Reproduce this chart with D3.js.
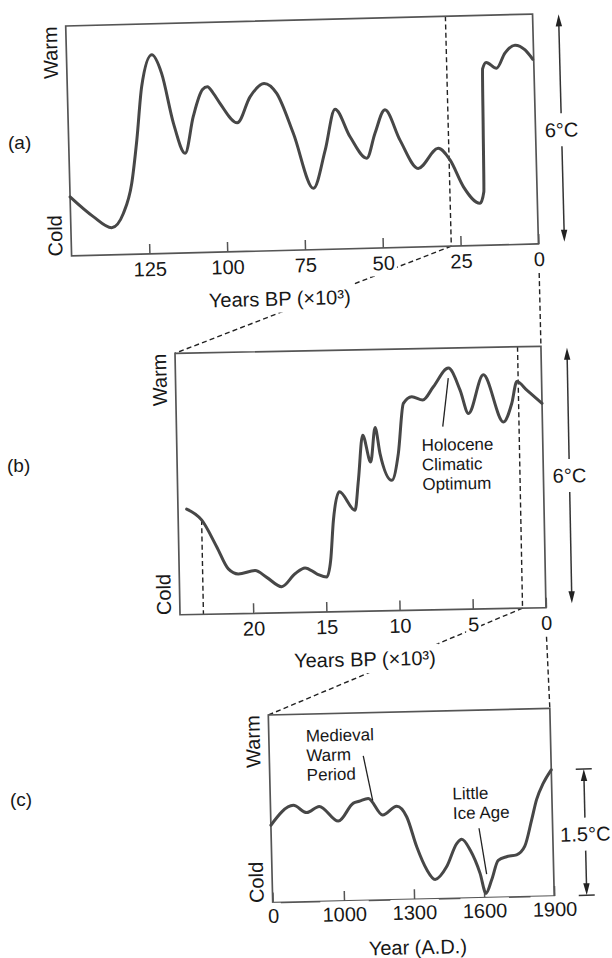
<!DOCTYPE html>
<html>
<head>
<meta charset="utf-8">
<script src="https://cdn.jsdelivr.net/npm/d3@7"></script>
<style>
  body { margin: 0; background: #fff; }
  svg { display: block; }
</style>
</head>
<body>
<svg id="fig" width="612" height="958"></svg>
<script>
// (a) Last glacial cycle: thousands of years BP vs. relative temperature (°C)
const glacialYears = [150, 142.7, 136.9, 133.0, 130.1, 128.1, 126.1, 122.6, 119.6, 116.2, 112.7, 109.8, 106.6, 105.0, 103.2, 101.1, 95.7, 91.4, 86.8, 82.8, 77.8, 71.8, 67.7, 64.2, 59.6, 54.4, 51.6, 48.2, 43.6, 38.0, 31.4, 27.7, 23.6, 18.4, 17.1, 16.8, 16.5, 15.3, 12.0, 9.2, 5.9, 2.7, 0.3];
const glacialTemp  = [1.54, 1.01, 0.71, 1.08, 1.85, 2.98, 4.37, 5.19, 4.70, 3.39, 2.60, 3.55, 4.25, 4.32, 4.15, 3.88, 3.36, 4.03, 4.37, 4.10, 3.05, 1.60, 2.59, 3.65, 2.92, 2.35, 2.99, 3.60, 2.80, 2.05, 2.56, 2.25, 1.54, 1.10, 1.40, 3.00, 4.60, 4.77, 4.61, 5.00, 5.20, 5.07, 4.82];
const glacialTicks = [125, 100, 75, 50, 25, 0];
const glacialZoomStart = 28;   // start of the interval expanded in (b)

// (b) Deglaciation and Holocene: thousands of years BP
const holoYears = [24.41, 23.39, 22.4, 21.64, 20.96, 19.82, 19.03, 18.02, 17.09, 16.40, 15.61, 14.93, 14.64, 14.40, 13.96, 12.91, 12.64, 12.29, 11.78, 11.43, 11.13, 10.36, 9.88, 9.47, 8.89, 8.14, 7.40, 6.35, 5.58, 5.04, 3.97, 2.66, 2.07, 1.69, 1.02, 0.0];
const holoTemp  = [2.42, 2.16, 1.54, 1.03, 0.91, 0.98, 0.82, 0.60, 0.89, 1.02, 0.88, 0.80, 1.18, 2.10, 2.75, 2.32, 3.01, 4.04, 3.42, 4.21, 3.61, 2.99, 3.60, 4.75, 4.90, 4.82, 5.12, 5.54, 5.03, 4.49, 5.37, 4.28, 4.70, 5.20, 5.00, 4.69];
const holoTicks = [20, 15, 10, 5, 0];
const holoMarkers = [23.4, 1.6];  // dashed guides; 1.6 ky opens panel (c)

// (c) Last two millennia: year A.D.
const histYears = [0, 321, 506, 684, 947, 1050, 1075, 1114, 1174, 1235, 1277, 1317, 1357, 1392, 1443, 1488, 1510, 1545, 1585, 1608, 1634, 1664, 1700, 1743, 1779, 1811, 1834, 1864, 1900];
const histTemp  = [0.92, 1.15, 1.06, 1.13, 0.95, 1.16, 1.18, 1.21, 1.01, 1.11, 0.98, 0.62, 0.35, 0.23, 0.38, 0.65, 0.70, 0.57, 0.29, 0.05, 0.21, 0.44, 0.48, 0.50, 0.60, 0.91, 1.15, 1.34, 1.50];
const histTicks = [0, 1000, 1300, 1600, 1900];

const FONT = '"Liberation Sans", Arial, Helvetica, sans-serif';
const INK = "#171717";
const CURVE = "#474747";
const FRAME = "#555";
const DASH = "5,3.2";

const svg = d3.select("#fig").attr("font-family", FONT);
const linkLayer = svg.append("g");

function toPage(p, lx, ly) {
  const a = p.angle * Math.PI / 180;
  return [p.ox + lx * Math.cos(a) - ly * Math.sin(a),
          p.oy + lx * Math.sin(a) + ly * Math.cos(a)];
}

function backdrop(nodes, pad) {
  nodes.each(function () {
    const b = this.getBBox();
    const r = document.createElementNS("http://www.w3.org/2000/svg", "rect");
    r.setAttribute("x", b.x - pad);
    r.setAttribute("y", b.y - pad);
    r.setAttribute("width", b.width + 2 * pad);
    r.setAttribute("height", b.height + 2 * pad);
    r.setAttribute("fill", "#fff");
    this.parentNode.insertBefore(r, this);
  });
}

function valueAt(xs, ys, x0) {
  for (let i = 0; i < xs.length - 1; i++) {
    const a = xs[i], b = xs[i + 1];
    if ((x0 - a) * (x0 - b) <= 0) {
      const t = (x0 - a) / (b - a);
      return ys[i] + t * (ys[i + 1] - ys[i]);
    }
  }
  return ys[ys.length - 1];
}

// Panel geometry (the printed page sits slightly rotated)
const A = { ox: 65.7, oy: 26, w: 467, h: 230, angle: -1.47 };
A.x = d3.scaleLinear().domain([150, 0]).range([0, A.w]);
A.y = d3.scaleLinear().domain([0, 6]).range([A.h, 0]);

const B = { ox: 175, oy: 353.3, w: 366, h: 261.5, angle: -1.1 };
B.x = d3.scaleLinear().domain([25, 0]).range([0, B.w]);
B.y = d3.scaleLinear().domain([0, 6]).range([B.h, 0]);

const C = { ox: 268.3, oy: 715, w: 281.6, h: 187.7, angle: -1.35 };
C.x = d3.scaleLinear().domain([0, 1000, 1900]).range([0, C.w * 0.2532, C.w]);
C.y = d3.scaleLinear().domain([0, 2.23]).range([C.h, 0]);

function panel(p, cfg) {
  const g = svg.append("g")
    .attr("transform", `translate(${p.ox},${p.oy}) rotate(${p.angle})`);

  // dashed guides inside the frame
  (cfg.guides || []).forEach(gd => {
    g.append("line")
      .attr("x1", p.x(gd.x)).attr("x2", p.x(gd.x))
      .attr("y1", gd.from).attr("y2", gd.to)
      .attr("stroke", "#222").attr("stroke-width", 1.4)
      .attr("stroke-dasharray", DASH);
  });

  // frame
  g.append("rect")
    .attr("width", p.w).attr("height", p.h)
    .attr("fill", "none").attr("stroke", FRAME).attr("stroke-width", 1.7);

  // bottom axis with inward ticks
  const ax = g.append("g")
    .attr("transform", `translate(0,${p.h})`)
    .call(d3.axisBottom(p.x).tickValues(cfg.ticks).tickSize(-10)
      .tickPadding(cfg.pad).tickFormat(d3.format("d")));
  ax.select(".domain").remove();
  ax.selectAll(".tick line").attr("stroke", FRAME).attr("stroke-width", 1.5);
  ax.selectAll(".tick text")
    .attr("font-size", 20).attr("font-family", FONT).attr("fill", INK);
  backdrop(ax.selectAll(".tick text"), 2);

  // temperature curve
  const line = d3.line()
    .x(d => p.x(d[0])).y(d => p.y(d[1]))
    .curve(d3.curveMonotoneX);
  g.append("path")
    .datum(d3.zip(cfg.xs, cfg.ys))
    .attr("d", line)
    .attr("fill", "none").attr("stroke", CURVE).attr("stroke-width", 3)
    .attr("stroke-linejoin", "round").attr("stroke-linecap", "round");

  // Warm / Cold
  g.append("text")
    .attr("transform", `translate(-9,0) rotate(-90)`)
    .attr("text-anchor", "end").attr("font-size", 20).attr("fill", INK)
    .text("Warm");
  g.append("text")
    .attr("transform", `translate(-9,${p.h}) rotate(-90)`)
    .attr("text-anchor", "start").attr("font-size", 20).attr("fill", INK)
    .text("Cold");

  // axis title
  const t = g.append("text")
    .attr("x", cfg.titleX).attr("y", p.h + 55)
    .attr("text-anchor", "middle").attr("font-size", 20).attr("fill", INK)
    .text(cfg.title);
  backdrop(t, 3);

  return g;
}

function rangeArrow(g, ax, yTop, yBot, label, midY, bars) {
  const gap = 16.5;
  g.append("line").attr("x1", ax).attr("x2", ax).attr("y1", yTop + 6).attr("y2", midY - gap)
    .attr("stroke", "#333").attr("stroke-width", 1.5);
  g.append("line").attr("x1", ax).attr("x2", ax).attr("y1", midY + gap).attr("y2", yBot - 6)
    .attr("stroke", "#333").attr("stroke-width", 1.5);
  g.append("path")
    .attr("d", `M${ax},${yTop} L${ax - 3.2},${yTop + 12} L${ax + 3.2},${yTop + 12} Z`)
    .attr("fill", "#222");
  g.append("path")
    .attr("d", `M${ax},${yBot} L${ax - 3.2},${yBot - 12} L${ax + 3.2},${yBot - 12} Z`)
    .attr("fill", "#222");
  if (bars) {
    [yTop, yBot].forEach(yy => g.append("line")
      .attr("x1", ax - 8).attr("x2", ax + 8).attr("y1", yy).attr("y2", yy)
      .attr("stroke", "#333").attr("stroke-width", 1.5));
  }
  g.append("text")
    .attr("x", ax).attr("y", midY + 7)
    .attr("text-anchor", "middle").attr("font-size", 20).attr("fill", INK)
    .text(label);
}

// multi-line annotation with a leader line to the curve
function note(g, p, lines, at, leader) {
  const size = 17, step = 19.5;
  const tx = p.x(at[0]), ty = p.y(at[1]) - 1.2;
  lines.forEach((s, i) => g.append("text")
    .attr("x", tx).attr("y", ty + i * step)
    .attr("font-size", size).attr("fill", INK).text(s));
  g.append("line")
    .attr("x1", p.x(leader[0][0])).attr("y1", p.y(leader[0][1]))
    .attr("x2", p.x(leader[1][0])).attr("y2", p.y(leader[1][1]))
    .attr("stroke", "#222").attr("stroke-width", 1.3);
}

// ---- Panel (a)
const gA = panel(A, {
  xs: glacialYears, ys: glacialTemp, ticks: glacialTicks, pad: 8,
  title: "Years BP (×10³)", titleX: 207,
  guides: [{ x: glacialZoomStart, from: 0, to: A.h }]
});
rangeArrow(gA, A.w + 26, A.y(6) + 1, A.y(0) - 1.5, "6°C", A.y(3) + 1.5, false);

// ---- Panel (b)
const bStartVal = valueAt(holoYears, holoTemp, holoMarkers[0]);
const gB = panel(B, {
  xs: holoYears, ys: holoTemp, ticks: holoTicks, pad: 8,
  title: "Years BP (×10³)", titleX: 184,
  guides: [
    { x: holoMarkers[0], from: B.y(bStartVal), to: B.h },
    { x: holoMarkers[1], from: 0, to: B.h }
  ]
});
rangeArrow(gB, B.w + 26, B.y(6) + 2, B.y(0) - 4, "6°C", B.y(3) - 1, false);
note(gB, B, ["Holocene", "Climatic", "Optimum"], [8.28, 3.62], [[6.37, 5.31], [6.81, 4.20]]);

// ---- Panel (c)
const gC = panel(C, {
  xs: histYears, ys: histTemp, ticks: histTicks, pad: 6,
  title: "Year (A.D.)", titleX: 144
});
rangeArrow(gC, C.w + 32.5, C.y(1.5), C.y(0), "1.5°C", (C.y(1.5) + C.y(0)) / 2 + 2, true);
note(gC, C, ["Medieval", "Warm", "Period"], [519, 1.887], [[1097, 1.717], [1133, 1.183]]);
note(gC, C, ["Little", "Ice Age"], [1475, 1.16], [[1585, 0.826], [1613, 0.28]]);

// ---- Zoom connectors between panels
function link(p1, p2) {
  linkLayer.append("line")
    .attr("x1", p1[0]).attr("y1", p1[1]).attr("x2", p2[0]).attr("y2", p2[1])
    .attr("stroke", "#222").attr("stroke-width", 1.4).attr("stroke-dasharray", DASH);
}
link(toPage(A, A.x(glacialZoomStart), A.h), toPage(B, 0, 0));
link(toPage(A, A.x(0), A.h + 29), toPage(B, B.w, 0));
link(toPage(B, B.x(holoMarkers[1]), B.h), toPage(C, 0, 0));
link(toPage(B, B.x(0), B.h + 29), toPage(C, C.w, 0));

// panel letters
[["(a)", 8, 149], ["(b)", 7, 472], ["(c)", 10, 806]].forEach(([s, x, y]) =>
  svg.append("text").attr("x", x).attr("y", y)
    .attr("font-size", 19).attr("fill", INK).text(s));
</script>
</body>
</html>
